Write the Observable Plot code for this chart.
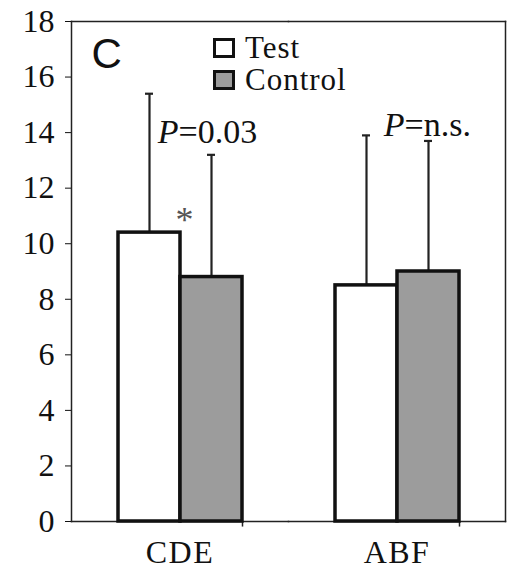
<!DOCTYPE html>
<html>
<head>
<meta charset="utf-8">
<script src="https://cdn.jsdelivr.net/npm/d3@7"></script>
<script src="https://cdn.jsdelivr.net/npm/@observablehq/plot@0.6"></script>
<style>
  body { margin: 0; background: #fff; }
  #wrap { position: relative; width: 508px; height: 570px; }
  #legend { position: absolute; left: 213px; top: 38px; font-family: "Liberation Serif", "Times New Roman", serif; font-size: 31px; letter-spacing: 1px; color: #111; }
  .row { display: flex; align-items: center; height: 20px; margin-bottom: 12px; }
  .row span { line-height: 20px; }
  .sw { width: 16px; height: 14px; border: 3px solid #111; margin-right: 10px; flex: none; }
</style>
</head>
<body>
<div id="wrap"><div id="legend"></div></div>
<script>
const categories = ["CDE", "ABF"];
const series = ["Test", "Control"];
const testMeans = [10.4, 8.5];
const controlMeans = [8.8, 9.0];
const testErr = [5.0, 5.4];
const controlErr = [4.4, 4.7];
const seriesColors = ["#ffffff", "#9c9c9c"];
const yTicks = [0, 2, 4, 6, 8, 10, 12, 14, 16, 18];
const pLabels = ["=0.03", "=n.s."];

const data = [];
categories.forEach((c, i) => {
  data.push({cat: c, series: "Test", value: testMeans[i], err: testErr[i]});
  data.push({cat: c, series: "Control", value: controlMeans[i], err: controlErr[i]});
});
const facetRows = categories.map(c => ({cat: c}));

const serif = "'Liberation Serif', 'Times New Roman', serif";

const plot = Plot.plot({
  width: 508,
  height: 570,
  marginLeft: 70,
  marginRight: 3,
  marginTop: 21,
  marginBottom: 49,
  style: {fontFamily: serif, color: "#111", background: "transparent"},
  fx: {domain: categories, padding: 0, axis: null, label: null},
  x: {domain: series, paddingInner: 0, paddingOuter: 0.75, axis: null},
  y: {domain: [0, 18], axis: null},
  color: {domain: series, range: seriesColors},
  marks: [
    Plot.frame({anchor: "top", stroke: "#222", strokeWidth: 1.5}),
    Plot.frame({anchor: "bottom", stroke: "#222", strokeWidth: 1.5}),
    Plot.frame({anchor: "left", facetAnchor: "left", stroke: "#222", strokeWidth: 1.5}),
    Plot.frame({anchor: "right", facetAnchor: "right", stroke: "#222", strokeWidth: 1.5}),
    // small category-boundary ticks below the baseline
    Plot.ruleX(facetRows, {fx: "cat", x: () => "Control", y1: 0, y2: -0.2, dx: 31, stroke: "#222", strokeWidth: 1.5}),
    Plot.axisY({ticks: yTicks, tickSize: 6, tickPadding: 11, fontSize: 32, fontFamily: serif, label: null, tickFormat: d => String(d)}),
    Plot.axisFx({anchor: "bottom", tickSize: 0, tickPadding: 19, fontSize: 32, fontFamily: serif, label: null}),
    Plot.ruleX(data, {fx: "cat", x: "series", y1: "value", y2: d => d.value + d.err, stroke: "#222", strokeWidth: 2.2}),
    Plot.tickY(data, {fx: "cat", x: "series", y: d => d.value + d.err, insetLeft: 27, insetRight: 27, stroke: "#222", strokeWidth: 2.2}),
    Plot.barY(data, {fx: "cat", x: "series", y: "value", fill: "series", stroke: "#111", strokeWidth: 3.5}),
    Plot.text([{cat: "CDE"}], {fx: "cat", text: () => "C", frameAnchor: "top-left", dx: 20, dy: 17, lineAnchor: "top", textAnchor: "start", fontFamily: "'Liberation Sans', Arial, sans-serif", fontSize: 42}),
    // P = 0.03 (CDE)
    Plot.text([{cat: "CDE", y: 14.02}], {fx: "cat", x: () => "Control", y: "y", text: () => "P", dx: -33, textAnchor: "end", fontStyle: "italic", fontSize: 34, fontFamily: serif}),
    Plot.text([{cat: "CDE", y: 14.02, t: pLabels[0]}], {fx: "cat", x: () => "Control", y: "y", text: "t", dx: -33, textAnchor: "start", fontSize: 34, fontFamily: serif}),
    // P = n.s. (ABF)
    Plot.text([{cat: "ABF", y: 14.28}], {fx: "cat", x: () => "Control", y: "y", text: () => "P", dx: -24, textAnchor: "end", fontStyle: "italic", fontSize: 34, fontFamily: serif}),
    Plot.text([{cat: "ABF", y: 14.28, t: pLabels[1]}], {fx: "cat", x: () => "Control", y: "y", text: "t", dx: -24, textAnchor: "start", fontSize: 34, fontFamily: serif}),
    // asterisk
    Plot.text([{cat: "CDE", y: 10.85}], {fx: "cat", x: () => "Control", y: "y", text: () => "*", dx: -27, fontSize: 36, fill: "#555", fontFamily: serif})
  ]
});

d3.select(plot).selectAll('[aria-label="fx-axis tick label"] text').style("letter-spacing", "1.5px");

const wrap = document.getElementById("wrap");
wrap.insertBefore(plot, wrap.firstChild);

const legend = d3.select("#legend");
series.forEach((s, i) => {
  const row = legend.append("div").attr("class", "row");
  row.append("div").attr("class", "sw").style("background", seriesColors[i]);
  row.append("span").text(s);
});
</script>
</body>
</html>
